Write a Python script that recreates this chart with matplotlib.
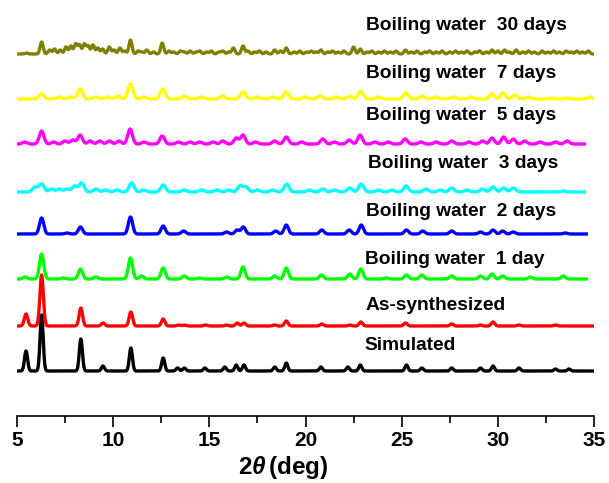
import numpy as np
import matplotlib
matplotlib.use("Agg")
import matplotlib.pyplot as plt

plt.rcParams['font.family'] = ['Liberation Sans', 'DejaVu Sans']
plt.rcParams['font.weight'] = 'bold'
plt.rcParams['mathtext.fontset'] = 'custom'
plt.rcParams['mathtext.rm'] = 'Liberation Sans:bold'
plt.rcParams['mathtext.it'] = 'Liberation Sans:italic'

# peak positions (2theta, deg) and heights (arb. units)
sim_pos = [5.47, 6.28, 8.32, 9.47, 10.92, 12.6, 13.35, 13.7, 14.77, 15.8, 16.4, 16.8,
           18.4, 19.0, 20.8, 22.2, 22.85, 25.25, 26.05, 27.6, 29.1, 29.75, 31.1, 33.0, 33.7]
sim_int = [20, 56, 32, 5, 23, 13, 3, 3, 3, 4, 6, 6,
           4, 8, 4, 4, 6, 6, 3, 3, 3, 5, 3, 2, 2]

syn_pos = [5.47, 6.28, 8.32, 9.47, 10.92, 12.6, 13.4, 13.7, 14.8, 15.9, 16.45, 16.8,
           18.4, 19.0, 20.85, 22.3, 22.88, 25.2, 27.6, 29.1, 29.75, 31.1, 33.0]
syn_int = [12, 51, 18, 3, 14, 7, 1, 1, 1, 1, 3, 3,
           1, 5, 2, 1, 4, 3, 2, 1, 4, 1, 1]

d1_pos = [5.42, 6.28, 7.4, 8.3, 9.1, 10.9, 11.48, 12.6, 13.7, 14.5, 15.9, 16.75, 18.4, 19.0,
          20.83, 22.3, 22.88, 24.2, 25.25, 26.05, 27.6, 29.1, 29.7, 30.25, 31.7, 33.4]
d1_int = [2, 25, 1, 10, 2, 21, 3, 11, 3, 1, 2, 12, 3, 11,
          4, 5, 10, 1, 4, 4, 3, 3, 5, 3, 2, 3]

d2_pos = [6.28, 7.6, 8.3, 10.9, 12.6, 13.66, 15.9, 16.45, 16.77, 18.45, 19.0,
          20.85, 22.27, 22.9, 25.25, 26.1, 27.6, 29.1, 29.75, 30.25, 30.8, 33.5]
d2_int = [16, 1, 7, 17, 8, 3, 2, 4, 7, 3, 9,
          4, 4, 9, 4, 3, 3, 2, 4, 3, 2, 1]

d3_pos = [5.94, 6.28, 6.8, 7.2, 7.6, 8.0, 8.36, 9.1, 9.6, 10.2, 10.96, 11.6, 12.6, 13.7,
          14.6, 15.4, 16.0, 16.6, 16.9, 17.5, 18.3, 19.02, 20.2, 20.9, 21.5, 22.3, 22.9,
          23.8, 24.5, 25.23, 26.27, 27.0, 27.6, 28.4, 29.2, 29.75, 30.3, 30.8, 33.4]
d3_int = [5, 8, 3, 3, 3, 6, 9, 3, 2, 2, 9, 2, 7, 2,
          2, 2, 2, 6, 5, 2, 2, 8, 2, 3, 2, 4, 8,
          2, 2, 6, 3, 2, 4, 2, 3, 5, 4, 4, 1]

d5_pos = [5.4, 6.28, 6.9, 7.5, 7.9, 8.28, 8.8, 9.3, 9.8, 10.3, 10.88, 11.6, 12.55, 13.4,
          14.0, 14.5, 15.2, 15.7, 16.4, 16.75, 17.4, 18.4, 19.0, 19.8, 20.9, 21.5, 22.27,
          22.84, 23.6, 24.3, 25.18, 26.0, 26.8, 27.6, 28.5, 29.2, 29.7, 30.3, 30.8, 31.4,
          32.2, 33.0, 33.6]
d5_int = [2, 13, 2, 3, 4, 9, 3, 3, 3, 3, 15, 2, 8, 2,
          2, 2, 2, 3, 6, 9, 2, 3, 7, 2, 5, 2, 4,
          9, 2, 2, 5, 2, 2, 3, 2, 3, 6, 7, 5, 3,
          2, 2, 3]

d7_pos = [6.28, 7.2, 7.8, 8.28, 9.1, 9.7, 10.25, 10.9, 11.6, 12.58, 13.7, 14.6, 15.7,
          16.75, 17.5, 18.3, 19.0, 20.0, 20.75, 21.6, 22.3, 22.87, 23.8, 25.23, 26.05,
          26.8, 27.7, 28.6, 29.7, 30.27, 30.9, 31.6, 32.8, 33.6, 34.8]
d7_int = [5, 2, 2, 10, 2, 2, 3, 15, 2, 10, 3, 2, 3,
          7, 2, 2, 7, 2, 3, 2, 3, 8, 2, 6, 3,
          2, 2, 2, 5, 6, 4, 2, 1, 1, 2]

d30_pos = [5.5, 6.28, 6.7, 6.95, 7.25, 7.55, 7.8, 8.05, 8.25, 8.5, 8.7, 8.95, 9.2, 9.45,
           9.8, 10.05, 10.35, 10.6, 10.9, 11.3, 11.5, 11.75, 12.1, 12.55, 12.9, 13.15,
           13.5, 13.7, 14.0, 14.3, 14.5, 14.85, 15.1, 15.5, 15.7, 16.0, 16.25, 16.75,
           17.0, 17.35, 17.6, 17.95, 18.4, 18.7, 19.0, 19.4, 19.7, 20.05, 20.3, 20.55,
           20.8, 21.15, 21.4, 21.7, 22.0, 22.5, 22.85, 23.2, 23.45, 23.8, 24.1, 24.4,
           24.7, 25.2, 25.5, 25.8, 26.2, 26.45, 26.8, 27.1, 27.5, 27.8, 28.1, 28.4,
           28.8, 29.05, 29.4, 29.7, 30.0, 30.35, 30.6, 30.95, 31.3, 31.6, 31.9, 32.3,
           32.6, 32.9, 33.2, 33.55, 33.8, 34.1, 34.4, 34.7]
d30_int = [1, 12, 4, 5, 4, 7, 8, 10, 9, 10, 8, 9, 6, 5,
           7, 4, 6, 3, 14, 3, 2, 4, 2, 11, 3, 2,
           3, 2, 3, 2, 3, 2, 3, 2, 3, 2, 6, 8,
           3, 2, 3, 2, 4, 3, 6, 2, 3, 2, 3, 2,
           4, 2, 3, 2, 3, 7, 5, 2, 3, 2, 3, 2,
           3, 4, 2, 3, 2, 3, 2, 3, 2, 3, 2, 3,
           2, 3, 2, 4, 3, 4, 2, 4, 2, 3, 2, 3,
           2, 3, 2, 3, 2, 3, 2, 3]

labels = ['Simulated', 'As-synthesized', 'Boiling water  1 day', 'Boiling water  2 days',
          'Boiling water  3 days', 'Boiling water  5 days', 'Boiling water  7 days',
          'Boiling water  30 days']
colors = ['#000000', '#ff0000', '#00ff00', '#0000ff', '#00ffff', '#ff00ff', '#ffff00', '#808000']
offsets = [45, 90, 137, 182, 224, 272, 317, 362]
x_end = [35, 35, 34.6, 34.6, 34.5, 34.5, 35, 35]
widths = [0.08, 0.09, 0.11, 0.11, 0.13, 0.12, 0.13, 0.08]
label_y = [70, 111, 157, 205, 253, 301, 342, 391]
label_x = [23.06, 23.1, 23.1, 23.13, 23.24, 23.13, 23.13, 23.13]

patterns = [(sim_pos, sim_int), (syn_pos, syn_int), (d1_pos, d1_int), (d2_pos, d2_int),
            (d3_pos, d3_int), (d5_pos, d5_int), (d7_pos, d7_int), (d30_pos, d30_int)]

fig = plt.figure(figsize=(6.09, 4.83), dpi=100)
ax = fig.add_axes([17 / 609, 67 / 483, 577 / 609, 416 / 483])

for (pos, inten), off, col, xe, w, lab, lx, ly in zip(patterns, offsets, colors, x_end,
                                                     widths, labels, label_x, label_y):
    x = np.linspace(5, xe, 3000)
    y = np.zeros_like(x)
    for p, h in zip(pos, inten):
        y += h * np.exp(-0.5 * ((x - p) / w) ** 2)
    ax.plot(x, y + off, color=col, lw=2.4, solid_joinstyle='round')
    ax.text(lx, ly, lab, fontsize=13.8, fontweight='bold', va='center', ha='left')

ax.set_xlim(5, 35)
ax.set_ylim(0, 416)
for s in ['left', 'right', 'top']:
    ax.spines[s].set_visible(False)
ax.spines['bottom'].set_linewidth(1.2)
ax.set_yticks([])
ax.set_xticks([5, 10, 15, 20, 25, 30, 35])
ax.set_xticks(np.arange(7.5, 35, 5), minor=True)
ax.tick_params(axis='x', which='major', length=8, width=1.2, labelsize=15, pad=3)
ax.tick_params(axis='x', which='minor', length=5, width=1.2)
for t in ax.get_xticklabels():
    t.set_fontweight('bold')
ax.set_xlabel(r'2$\theta\,$(deg)', fontsize=17.5, fontweight='bold')
ax.xaxis.set_label_coords(0.461, -0.092)

fig.savefig('out.png', dpi=100)
